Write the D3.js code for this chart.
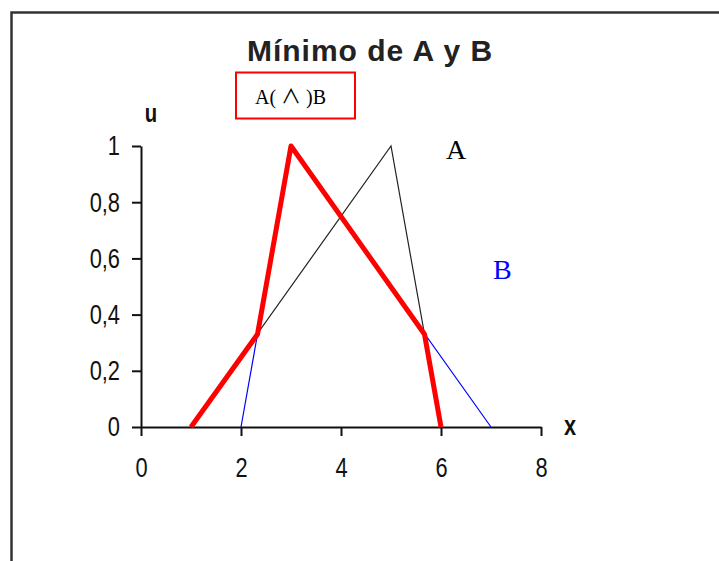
<!DOCTYPE html>
<html>
<head>
<meta charset="utf-8">
<script src="https://cdn.jsdelivr.net/npm/d3@7"></script>
<style>
body { margin: 0; background: #fff; }
.tick text { font-family: "Liberation Sans", Arial, sans-serif; font-size: 28px; fill: #111; }
.axis path, .axis line { stroke: #111; stroke-width: 2; }
</style>
</head>
<body>
<div id="chart"></div>
<script>
// valores
var xTicks = [0, 2, 4, 6, 8];
var yTicks = [0, 0.2, 0.4, 0.6, 0.8, 1];
var yTickLabels = ["0", "0,2", "0,4", "0,6", "0,8", "1"];
var setA = [{x: 1, u: 0}, {x: 5, u: 1}, {x: 6, u: 0}];
var setB = [{x: 2, u: 0}, {x: 3, u: 1}, {x: 7, u: 0}];
var minAB = [{x: 1, u: 0}, {x: 2.33, u: 0.33}, {x: 3, u: 1}, {x: 5.67, u: 0.33}, {x: 6, u: 0}];

var w = 719, h = 561;
var narrow = 0.78; // letras estrechas como en el original

var svg = d3.select("#chart")
	.append("svg")
	.attr("width", w)
	.attr("height", h);

// marco
svg.append("rect")
	.attr("x", 11.5).attr("y", 12.5)
	.attr("width", 800).attr("height", 600)
	.attr("fill", "#fff")
	.attr("stroke", "#333")
	.attr("stroke-width", 2.5);

var xScale = d3.scaleLinear().domain([0, 8]).range([141, 541]);
var yScale = d3.scaleLinear().domain([0, 1]).range([427, 146]);

var line = d3.line()
	.x(function(d) { return xScale(d.x); })
	.y(function(d) { return yScale(d.u); });

// ejes
var gx = svg.append("g")
	.attr("class", "axis")
	.attr("transform", "translate(0," + yScale(0) + ")")
	.call(d3.axisBottom(xScale).tickValues(xTicks).tickSize(9).tickSizeOuter(0).tickPadding(21));
gx.selectAll(".tick text").attr("transform", "scale(" + narrow + ",1)");

var gy = svg.append("g")
	.attr("class", "axis")
	.attr("transform", "translate(" + xScale(0) + ",0)")
	.call(d3.axisLeft(yScale).tickValues(yTicks).tickSize(9).tickSizeOuter(0).tickPadding(12)
		.tickFormat(function(d, i) { return yTickLabels[i]; }));
gy.selectAll(".tick text")
	.attr("x", -21 / narrow)
	.attr("transform", "scale(" + narrow + ",1)");

// conjuntos
svg.append("path").datum(setA)
	.attr("d", line).attr("fill", "none")
	.attr("stroke", "#222").attr("stroke-width", 1.2);

svg.append("path").datum(setB)
	.attr("d", line).attr("fill", "none")
	.attr("stroke", "#0000ff").attr("stroke-width", 1.2);

svg.append("path").datum(minAB)
	.attr("d", line).attr("fill", "none")
	.attr("stroke", "#ff0000").attr("stroke-width", 5)
	.attr("stroke-linejoin", "round");

// titulo
svg.append("text")
	.attr("x", 370).attr("y", 61)
	.attr("text-anchor", "middle")
	.style("font-family", "Liberation Sans, Arial, sans-serif")
	.style("font-size", "30px")
	.style("font-weight", "bold")
	.style("letter-spacing", "1px")
	.attr("fill", "#222")
	.text("Mínimo de A y B");

// caja de leyenda
svg.append("rect")
	.attr("x", 236).attr("y", 72.5)
	.attr("width", 119).attr("height", 46)
	.attr("fill", "#fff")
	.attr("stroke", "#ff0000").attr("stroke-width", 2);

var leg = svg.append("text")
	.attr("x", 255).attr("y", 104)
	.style("font-family", "Liberation Serif, Times New Roman, serif")
	.style("font-size", "20px")
	.attr("fill", "#000");
leg.append("tspan").text("A( ");
leg.append("tspan")
	.style("font-family", "Noto Sans CJK JP, sans-serif")
	.style("font-size", "20px")
	.text("∧");
leg.append("tspan").text(" )B");

// etiquetas de ejes
svg.append("text")
	.attr("x", 151 / narrow).attr("y", 122)
	.attr("transform", "scale(" + narrow + ",1)")
	.attr("text-anchor", "middle")
	.style("font-family", "Liberation Sans, Arial, sans-serif")
	.style("font-size", "26px").style("font-weight", "bold")
	.attr("fill", "#111")
	.text("u");

svg.append("text")
	.attr("x", 570 / narrow).attr("y", 435)
	.attr("transform", "scale(" + narrow + ",1)")
	.attr("text-anchor", "middle")
	.style("font-family", "Liberation Sans, Arial, sans-serif")
	.style("font-size", "28px").style("font-weight", "bold")
	.attr("fill", "#111")
	.text("x");

svg.append("text")
	.attr("x", 446).attr("y", 159)
	.style("font-family", "Liberation Serif, Times New Roman, serif")
	.style("font-size", "28px")
	.attr("fill", "#000")
	.text("A");

svg.append("text")
	.attr("x", 493).attr("y", 279)
	.style("font-family", "Liberation Serif, Times New Roman, serif")
	.style("font-size", "28px")
	.attr("fill", "#0000ff")
	.text("B");
</script>
</body>
</html>
